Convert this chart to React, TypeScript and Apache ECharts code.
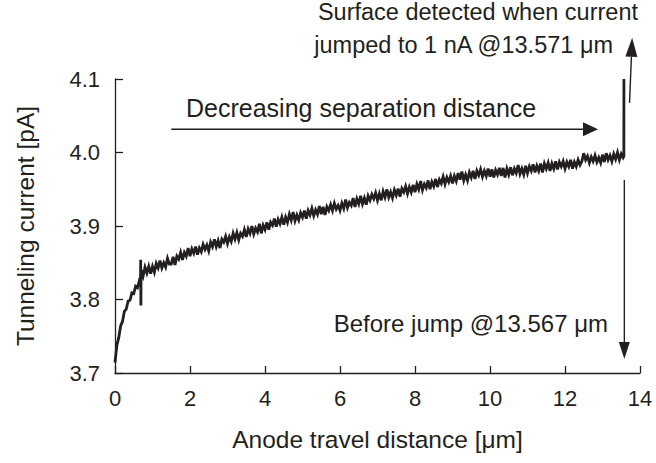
import React, { useEffect, useRef } from "react";
import * as echarts from "echarts";

// x [µm], current [pA] for the steep start including the glitch near 0.69 µm
const earlyPoints: [number, number][] = [
  [0, 3.714], [0.05, 3.738], [0.1, 3.748], [0.15, 3.764], [0.2, 3.77], [0.25, 3.784],
  [0.3, 3.787], [0.35, 3.798], [0.4, 3.799], [0.45, 3.809], [0.5, 3.808], [0.55, 3.818],
  [0.6, 3.816], [0.65, 3.826], [0.68, 3.824], [0.685, 3.854], [0.69, 3.792], [0.695, 3.836],
];

// main record: x from 0.70 µm in steps of 0.05 µm
const bodyStart = 0.7;
const bodyStep = 0.05;
const bodyCurrent: number[] = [
  3.840, 3.832, 3.844, 3.836, 3.845, 3.835,
  3.845, 3.837, 3.849, 3.843, 3.853, 3.843, 3.850, 3.844, 3.856, 3.848,
  3.848, 3.858, 3.847, 3.859, 3.855, 3.864, 3.854, 3.864, 3.859, 3.870,
  3.859, 3.869, 3.863, 3.872, 3.861, 3.870, 3.865, 3.875, 3.868, 3.874,
  3.866, 3.878, 3.872, 3.882, 3.872, 3.880, 3.870, 3.882, 3.878, 3.886,
  3.876, 3.885, 3.879, 3.890, 3.882, 3.891, 3.881, 3.890, 3.886, 3.895,
  3.885, 3.896, 3.890, 3.900, 3.889, 3.897, 3.892, 3.903, 3.890, 3.901,
  3.895, 3.905, 3.895, 3.905, 3.901, 3.910, 3.899, 3.909, 3.903, 3.912,
  3.902, 3.912, 3.905, 3.916, 3.908, 3.919, 3.907, 3.915, 3.908, 3.918,
  3.912, 3.921, 3.910, 3.921, 3.915, 3.924, 3.914, 3.922, 3.916, 3.927,
  3.916, 3.926, 3.915, 3.926, 3.921, 3.929, 3.921, 3.931, 3.923, 3.928,
  3.921, 3.931, 3.924, 3.936, 3.925, 3.932, 3.928, 3.938, 3.926, 3.937,
  3.930, 3.941, 3.930, 3.938, 3.929, 3.941, 3.935, 3.943, 3.937, 3.945,
  3.935, 3.944, 3.935, 3.947, 3.939, 3.950, 3.939, 3.946, 3.938, 3.949,
  3.942, 3.951, 3.940, 3.951, 3.946, 3.954, 3.944, 3.953, 3.946, 3.956,
  3.946, 3.957, 3.950, 3.961, 3.949, 3.957, 3.952, 3.962, 3.950, 3.960,
  3.954, 3.964, 3.953, 3.963, 3.958, 3.967, 3.957, 3.966, 3.960, 3.968,
  3.958, 3.968, 3.961, 3.972, 3.963, 3.974, 3.962, 3.970, 3.962, 3.973,
  3.966, 3.975, 3.964, 3.975, 3.969, 3.977, 3.967, 3.975, 3.968, 3.978,
  3.967, 3.977, 3.966, 3.976, 3.970, 3.979, 3.968, 3.979, 3.966, 3.978,
  3.970, 3.980, 3.969, 3.978, 3.972, 3.983, 3.971, 3.978, 3.970, 3.982,
  3.972, 3.981, 3.975, 3.984, 3.973, 3.982, 3.975, 3.985, 3.973, 3.985,
  3.978, 3.986, 3.975, 3.985, 3.978, 3.988, 3.977, 3.987, 3.981, 3.988,
  3.978, 3.987, 3.981, 3.990, 3.978, 3.987, 3.981, 3.990, 3.983, 3.988,
  3.999, 3.990, 3.995, 3.986, 3.994, 3.988, 3.996, 3.987, 3.993, 3.986,
  3.997, 3.987, 3.999, 3.990, 3.996, 3.988, 3.998, 3.991, 4.000, 3.990, 3.998, 3.993,
];

// jump to 1 nA (clipped at top of axis)
const endPoints: [number, number][] = [
  [13.57, 3.995],
  [13.571, 4.1],
];

const xTicks = { min: 0, max: 14, interval: 2 };
const yTicks = { min: 3.7, max: 4.1, interval: 0.1 };

const surfaceX = 13.571;
const beforeJumpX = 13.567;

const INK = "#231f20";
const FONT = "'Liberation Sans', Arial, Helvetica, sans-serif";

function arrow(
  p1: number[],
  p2: number[],
  headLen: number,
  headHalf: number
): any[] {
  const dx = p2[0] - p1[0];
  const dy = p2[1] - p1[1];
  const len = Math.sqrt(dx * dx + dy * dy);
  const ux = dx / len;
  const uy = dy / len;
  const bx = p2[0] - ux * headLen;
  const by = p2[1] - uy * headLen;
  const nx = -uy;
  const ny = ux;
  return [
    {
      type: "line",
      shape: { x1: p1[0], y1: p1[1], x2: bx, y2: by },
      style: { stroke: INK, lineWidth: 1.4 },
      silent: true,
    },
    {
      type: "polygon",
      shape: {
        points: [
          [p2[0], p2[1]],
          [bx + nx * headHalf, by + ny * headHalf],
          [bx - nx * headHalf, by - ny * headHalf],
        ],
      },
      style: { fill: INK },
      silent: true,
    },
  ];
}

export default function App() {
  const ref = useRef<HTMLDivElement>(null);

  useEffect(() => {
    if (!ref.current) return;
    const chart = echarts.init(ref.current, null, { renderer: "svg" });

    const data: [number, number][] = [
      ...earlyPoints,
      ...bodyCurrent.map((v, i) => [+(bodyStart + i * bodyStep).toFixed(3), v] as [number, number]),
      ...endPoints,
    ];

    const option: any = {
      animation: false,
      backgroundColor: "#ffffff",
      grid: { left: 115, right: 16, top: 79, bottom: 90, containLabel: false },
      xAxis: {
        type: "value",
        min: xTicks.min,
        max: xTicks.max,
        interval: xTicks.interval,
        name: "Anode travel distance [\u03bcm]",
        nameLocation: "middle",
        nameGap: 54,
        nameTextStyle: { color: INK, fontSize: 24.5, fontFamily: FONT },
        axisLine: { show: true, lineStyle: { color: INK, width: 1.3 } },
        axisTick: { show: true, inside: true, length: 7, lineStyle: { color: INK, width: 1.3 } },
        axisLabel: { color: INK, fontSize: 22, fontFamily: FONT, margin: 14 },
        splitLine: { show: false },
      },
      yAxis: {
        type: "value",
        min: yTicks.min,
        max: yTicks.max,
        interval: yTicks.interval,
        name: "Tunneling current [pA]",
        nameLocation: "middle",
        nameGap: 77,
        nameTextStyle: { color: INK, fontSize: 24.5, fontFamily: FONT },
        axisLine: { show: true, lineStyle: { color: INK, width: 1.3 } },
        axisTick: { show: true, inside: true, length: 8, lineStyle: { color: INK, width: 1.3 } },
        axisLabel: {
          color: INK,
          fontSize: 22,
          fontFamily: FONT,
          margin: 15,
          formatter: (v: number) => v.toFixed(1),
        },
        splitLine: { show: false },
      },
      series: [
        {
          type: "line",
          data,
          showSymbol: false,
          symbol: "none",
          lineStyle: { color: INK, width: 2.8, join: "miter", miterLimit: 4 },
          clip: true,
        },
      ],
    };

    chart.setOption(option);

    const px = (x: number, y: number) => chart.convertToPixel({ gridIndex: 0 }, [x, y]) as number[];

    const textStyle = (extra: any) => ({
      fill: INK,
      fontSize: 24,
      fontFamily: FONT,
      lineHeight: 18,
      textVerticalAlign: "middle",
      verticalAlign: "middle",
      ...extra,
    });

    const graphics: any[] = [
      {
        type: "text",
        x: 638,
        y: 12,
        style: textStyle({ text: "Surface detected when current", textAlign: "right", align: "right", fontSize: 23.5 }),
        silent: true,
      },
      {
        type: "text",
        x: 613,
        y: 45,
        style: textStyle({ text: "jumped to 1 nA @13.571 \u03bcm", textAlign: "right", align: "right", fontSize: 23.5 }),
        silent: true,
      },
      {
        type: "text",
        x: 186,
        y: 108,
        style: textStyle({ text: "Decreasing separation distance", textAlign: "left", align: "left", fontSize: 25 }),
        silent: true,
      },
      {
        type: "text",
        x: 608,
        y: 323,
        style: textStyle({ text: "Before jump @13.567 \u03bcm", textAlign: "right", align: "right" }),
        silent: true,
      },
      ...arrow(px(1.5, 4.0316), px(12.88, 4.0316), 15, 7),
      ...arrow(px(beforeJumpX + 0.015, 3.9626), px(beforeJumpX + 0.015, 3.719), 17, 5.5),
      ...arrow(px(surfaceX + 0.15, 4.0675), px(surfaceX + 0.22, 4.156), 19, 6),
    ];

    chart.setOption({ graphic: graphics });

    return () => {
      chart.dispose();
    };
  }, []);

  return (
    <div
      ref={ref}
      style={{ position: "fixed", left: 0, top: 0, width: 656, height: 463, background: "#fff" }}
    />
  );
}
